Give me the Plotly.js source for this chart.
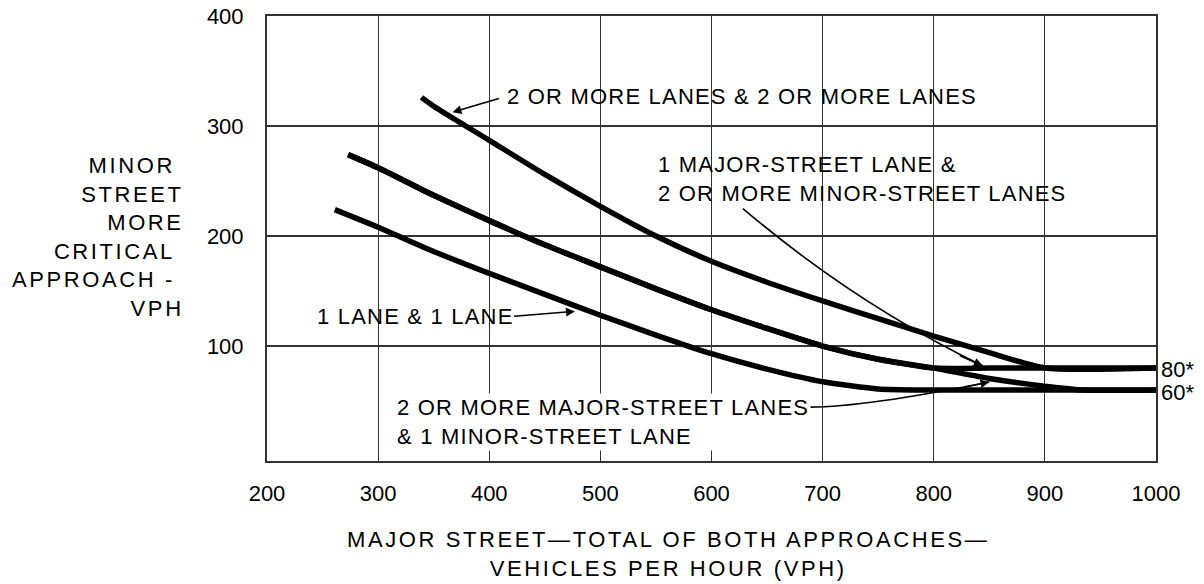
<!DOCTYPE html>
<html>
<head>
<meta charset="utf-8">
<script src="https://cdn.plot.ly/plotly-3.0.1.min.js"></script>
<style>html,body{margin:0;padding:0;background:#fff;}#chart{width:1204px;height:584px;}</style>
</head>
<body>
<div id="chart"></div>
<script>
// Major street total (VPH) and minor street critical approach (VPH)
const x_22 = [339, 350, 400, 450, 500, 550, 600, 650, 700, 750, 800, 850, 900, 1000];
const y_22 = [326, 318, 287, 256, 227, 200, 177, 158, 141, 125, 109, 94, 80, 80];

const x_1major2minor = [273, 300, 350, 400, 450, 500, 550, 600, 650, 700, 750, 800, 850, 900, 1000];
const y_1major2minor = [274, 262, 237, 214, 192, 172, 152, 133, 116, 100, 88, 80, 80, 80, 80];

const x_2major1minor = [273, 300, 350, 400, 450, 500, 550, 600, 650, 700, 750, 800, 850, 900, 935, 1000];
const y_2major1minor = [274, 262, 237, 214, 192, 172, 152, 133, 116, 100, 88, 80, 70.5, 63.5, 60, 60];

const x_11 = [261, 300, 350, 400, 450, 500, 550, 600, 650, 700, 750, 790, 850, 1000];
const y_11 = [224, 208, 186, 166, 147, 128, 110, 93, 79, 67.5, 61, 60, 60, 60];

const xTicks = [200, 300, 400, 500, 600, 700, 800, 900, 1000];
const yTicks = [100, 200, 300, 400];

const FONT = 'Liberation Sans, Arial, Helvetica, sans-serif';
const lineStyle = {color: '#000', width: 5.5, shape: 'spline', smoothing: 0.6};

const traces = [
  {x: x_22, y: y_22, name: '2 OR MORE LANES & 2 OR MORE LANES'},
  {x: x_1major2minor, y: y_1major2minor, name: '1 MAJOR-STREET LANE & 2 OR MORE MINOR-STREET LANES'},
  {x: x_2major1minor, y: y_2major1minor, name: '2 OR MORE MAJOR-STREET LANES & 1 MINOR-STREET LANE'},
  {x: x_11, y: y_11, name: '1 LANE & 1 LANE'}
].map(t => Object.assign({type: 'scatter', mode: 'lines', line: lineStyle, hoverinfo: 'skip'}, t));

function spaced(lines, ls) {
  return lines.map(l => '<span style="letter-spacing:' + ls + 'px">' + l + '</span>').join('<br>');
}
function arrow(x, y, ax, ay) {
  return {x: x, y: y, ax: ax, ay: ay, xref: 'x', yref: 'y', axref: 'x', ayref: 'y',
          text: '', showarrow: true, arrowhead: 2, arrowsize: 1.1, arrowwidth: 1.6, arrowcolor: '#000'};
}
function label(x, y, lines, opts) {
  return Object.assign({x: x, y: y, xref: 'x', yref: 'y', text: spaced(lines, 1.2), showarrow: false,
          xanchor: 'left', yanchor: 'middle', align: 'left',
          font: {family: FONT, size: 22, color: '#000'}}, opts || {});
}

const annotations = [
  label(414, 327, ['2 OR MORE LANES & 2 OR MORE LANES']),
  arrow(367, 312.5, 410, 325.5),
  label(550, 252, ['1 MAJOR-STREET LANE &', '2 OR MORE MINOR-STREET LANES']),
  label(243, 126.5, ['1 LANE & 1 LANE']),
  arrow(477, 131.5, 421, 127),
  label(315, 31, ['2 OR MORE MAJOR-STREET LANES', '& 1 MINOR-STREET LANE'], {bgcolor: '#fff'}),
  arrow(844, 82, 822, 92),
  arrow(850, 67.3, 826, 62.3),
  {x: 1000, y: 79, xref: 'x', yref: 'y', text: '80*', showarrow: false, xanchor: 'left', yanchor: 'middle',
   xshift: 3, font: {family: FONT, size: 22, color: '#000'}},
  {x: 1000, y: 58, xref: 'x', yref: 'y', text: '60*', showarrow: false, xanchor: 'left', yanchor: 'middle',
   xshift: 3, font: {family: FONT, size: 22, color: '#000'}},
  {x: 186, y: 237, xref: 'paper', yref: 'paper',
   text: spaced(['MINOR&nbsp;', 'STREET', 'MORE', 'CRITICAL&nbsp;', 'APPROACH -&nbsp;', 'VPH'], 2.6),
   showarrow: false, align: 'right', xanchor: 'right', yanchor: 'middle', font: {family: FONT, size: 22, color: '#000'}},
  {x: 668, y: 554, xref: 'paper', yref: 'paper',
   text: spaced(['MAJOR STREET—TOTAL OF BOTH APPROACHES—', 'VEHICLES PER HOUR (VPH)'], 2.6),
   showarrow: false, align: 'center', xanchor: 'center', yanchor: 'middle', font: {family: FONT, size: 22, color: '#000'}}
];

// convert pixel-placed paper annotations (y-axis title, x-axis title) into paper units
const W = 1204, H = 584, mL = 267, mR = 48, mT = 16, mB = 123;
annotations.forEach(a => {
  if (a.xref === 'paper') {
    a.x = (a.x - mL) / (W - mL - mR);
    a.y = 1 - (a.y - mT) / (H - mT - mB);
  }
});

const shapes = [
  {type: 'path', xref: 'x', yref: 'y', path: 'M 628.3,225 Q 728.4,138.9 844,82', line: {color: '#000', width: 1.6}},
  {type: 'path', xref: 'x', yref: 'y', path: 'M 688.3,44.5 Q 737.8,44.5 850,67.3', line: {color: '#000', width: 1.6}}
];

const layout = {
  width: W, height: H,
  margin: {l: mL, r: mR, t: mT, b: mB, pad: 0},
  paper_bgcolor: '#fff', plot_bgcolor: '#fff',
  showlegend: false,
  font: {family: FONT, size: 22, color: '#000'},
  xaxis: {
    range: [200, 1000], tickvals: xTicks, ticktext: xTicks.map(String),
    showgrid: true, gridcolor: '#333', gridwidth: 1.2,
    showline: true, linecolor: '#333', linewidth: 2, mirror: true,
    ticks: 'outside', ticklen: 12, tickcolor: 'rgba(0,0,0,0)',
    zeroline: false, tickfont: {family: FONT, size: 22, color: '#000'}
  },
  yaxis: {
    range: [-4.5, 400], tickvals: yTicks, ticktext: yTicks.map(String),
    showgrid: true, gridcolor: '#333', gridwidth: 1.2,
    showline: true, linecolor: '#333', linewidth: 2, mirror: true,
    ticks: 'outside', ticklen: 17, tickcolor: 'rgba(0,0,0,0)',
    zeroline: false, tickfont: {family: FONT, size: 22, color: '#000'}
  },
  annotations: annotations,
  shapes: shapes
};

Plotly.newPlot('chart', traces, layout, {displayModeBar: false, staticPlot: true});
</script>
</body>
</html>
